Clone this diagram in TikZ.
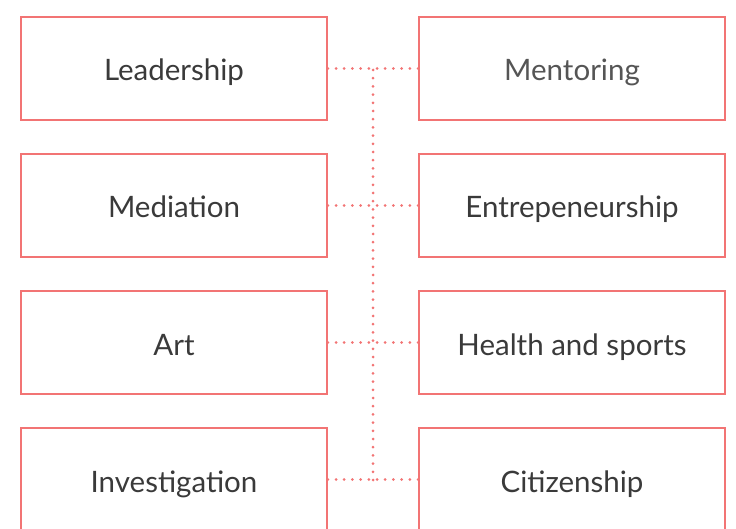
\documentclass[tikz,border=0pt]{standalone}
\usepackage{fontspec}
\setmainfont{Lato}
\definecolor{boxred}{HTML}{F27474}
\definecolor{txt}{HTML}{3A3A3A}
\definecolor{txtlight}{HTML}{555555}
\begin{document}
\begin{tikzpicture}[x=1pt,y=-1pt,
  card/.style={draw=boxred,line width=1.6pt,minimum width=306pt,minimum height=103pt,inner sep=0pt,
     font=\fontsize{29.5}{32}\selectfont,text=txt,text height=26pt,text depth=1pt},
  link/.style={draw=boxred,line width=3pt,line cap=round,dash pattern=on 0pt off 8.2pt}]
\useasboundingbox (0,0) rectangle (736,529);
\begin{scope}
\clip (0,0) rectangle (736,529);
\node[card] (l1) at (174,68.5) {Leadership};
\node[card] (l2) at (174,205.5) {Mediation};
\node[card] (l3) at (174,342.5) {Art};
\node[card] (l4) at (174,479.5) {Investigation};
\node[card,text=txtlight] (r1) at (572,68.5) {\addfontfeatures{FakeBold=-0.3}Mentoring};
\node[card] (r2) at (572,205.5) {Entrepeneurship};
\node[card] (r3) at (572,342.5) {Health and sports};
\node[card] (r4) at (572,479.5) {Citizenship};
\coordinate (top) at (373,70);
\coordinate (bot) at (373,480);
\foreach \i in {1,...,4}{
  \draw[link] (l\i.east) -- (r\i.west);
}
\draw[link] (top) -- (bot);
\end{scope}
\end{tikzpicture}
\end{document}
